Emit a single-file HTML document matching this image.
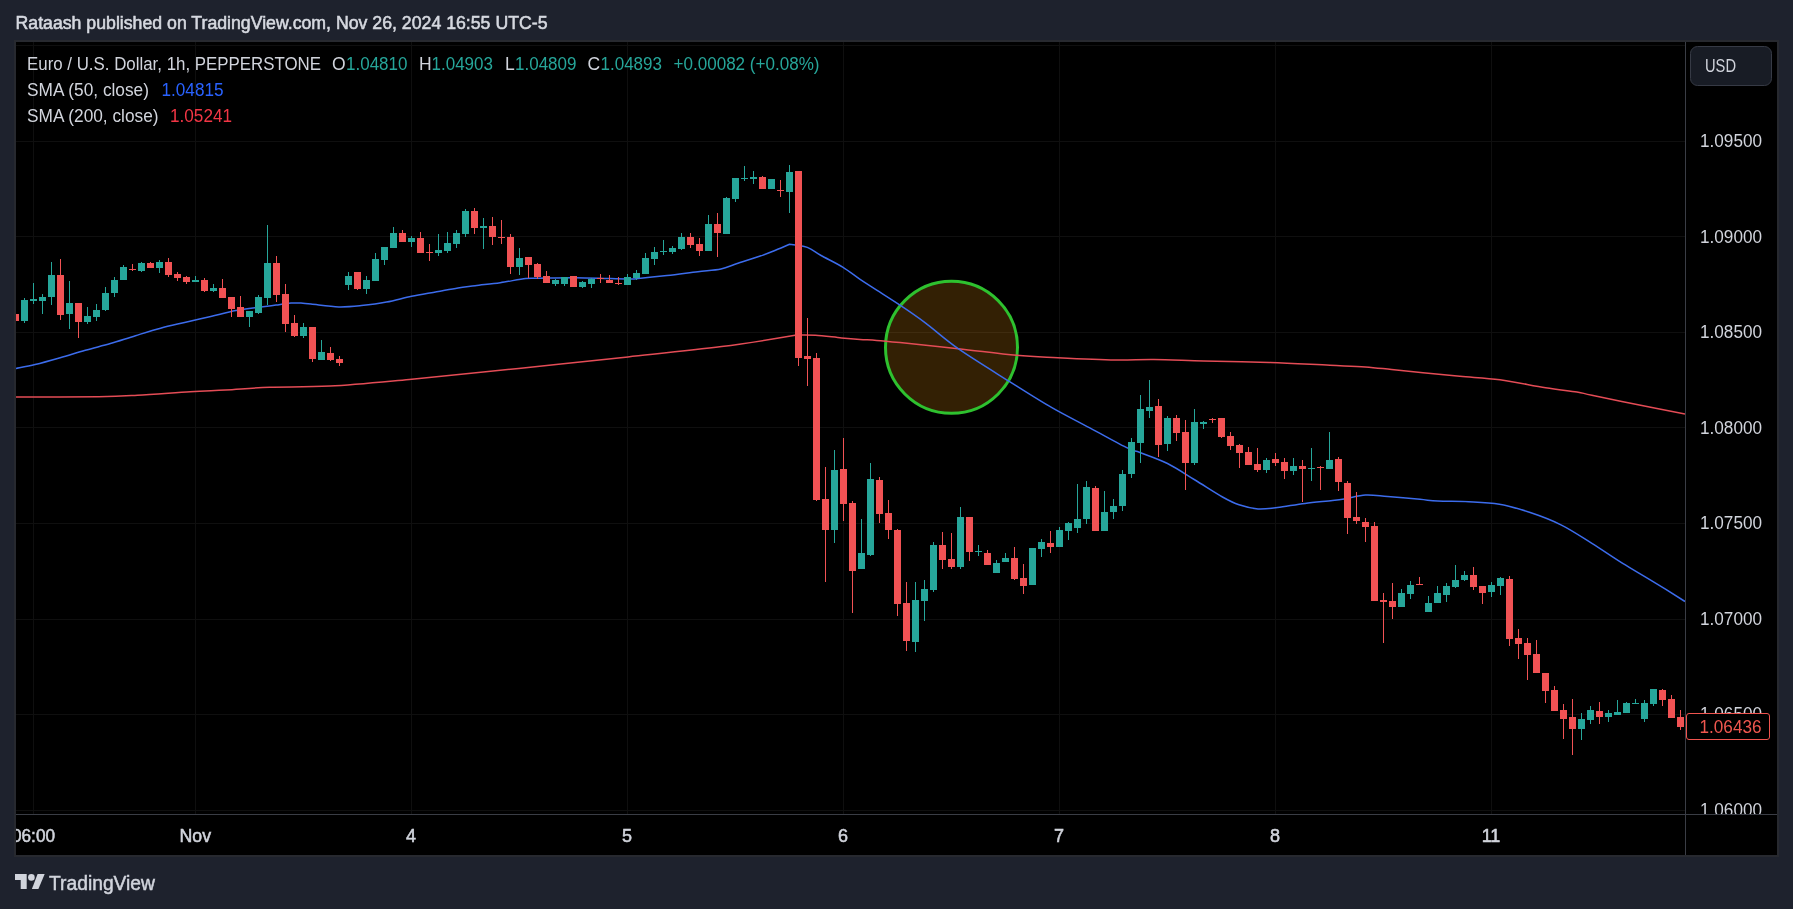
<!DOCTYPE html>
<html><head><meta charset="utf-8"><title>EURUSD chart</title>
<style>
html,body{margin:0;padding:0;}
body{width:1793px;height:909px;background:#1e222d;position:relative;overflow:hidden;font-family:"Liberation Sans",sans-serif;}
svg{position:absolute;left:0;top:0;will-change:transform;}
svg text{font-family:"Liberation Sans",sans-serif;}
.ax{font-size:17px;fill:#d1d4dc;}
.lg{font-size:17.5px;fill:#d1d4dc;stroke-width:0.2px;}
.tx{font-size:18px;fill:#d1d4dc;stroke:#d1d4dc;stroke-width:0.55px;}
</style></head><body>
<svg width="1793" height="909" viewBox="0 0 1793 909">
<defs>
<clipPath id="pane"><rect x="16" y="42" width="1669" height="772"/></clipPath>
<clipPath id="pax"><rect x="1686" y="42" width="91" height="772"/></clipPath>
<clipPath id="tax"><rect x="16" y="815" width="1669" height="40"/></clipPath>
</defs>
<text x="15.5" y="29" style="font-size:17.5px;font-weight:normal;fill:#d6d9e0;stroke:#d6d9e0;stroke-width:0.55px" textLength="532" lengthAdjust="spacingAndGlyphs">Rataash published on TradingView.com, Nov 26, 2024 16:55 UTC-5</text>
<rect x="14" y="40" width="1765" height="817" fill="#27292f"/>
<rect x="16" y="42" width="1761" height="813" fill="#000"/>
<g shape-rendering="crispEdges">
<rect x="16" y="45" width="1669" height="1" fill="#0f0f0f"/>
<rect x="16" y="141" width="1669" height="1" fill="#0f0f0f"/>
<rect x="16" y="236" width="1669" height="1" fill="#0f0f0f"/>
<rect x="16" y="332" width="1669" height="1" fill="#0f0f0f"/>
<rect x="16" y="427" width="1669" height="1" fill="#0f0f0f"/>
<rect x="16" y="523" width="1669" height="1" fill="#0f0f0f"/>
<rect x="16" y="619" width="1669" height="1" fill="#0f0f0f"/>
<rect x="16" y="714" width="1669" height="1" fill="#0f0f0f"/>
<rect x="16" y="810" width="1669" height="1" fill="#0f0f0f"/>
<rect x="33" y="42" width="1" height="772" fill="#0f0f0f"/>
<rect x="195" y="42" width="1" height="772" fill="#0f0f0f"/>
<rect x="411" y="42" width="1" height="772" fill="#0f0f0f"/>
<rect x="627" y="42" width="1" height="772" fill="#0f0f0f"/>
<rect x="843" y="42" width="1" height="772" fill="#0f0f0f"/>
<rect x="1059" y="42" width="1" height="772" fill="#0f0f0f"/>
<rect x="1275" y="42" width="1" height="772" fill="#0f0f0f"/>
<rect x="1491" y="42" width="1" height="772" fill="#0f0f0f"/>
</g>
<g clip-path="url(#pane)">
<circle cx="951.5" cy="347.3" r="66" fill="rgba(255,160,20,0.2)" stroke="#2ec12f" stroke-width="3"/>
<path d="M15.0,397.0 C28.9,396.9 78.2,397.0 98.6,396.7 C119.0,396.4 122.1,396.1 137.4,395.3 C152.7,394.5 175.5,392.6 190.2,391.7 C204.9,390.8 212.3,390.7 225.5,390.0 C238.7,389.3 252.2,387.9 269.6,387.3 C287.0,386.7 306.7,387.4 330.0,386.1 C353.3,384.8 377.9,382.3 409.3,379.4 C440.7,376.4 482.2,372.1 518.6,368.4 C555.0,364.6 594.1,360.5 627.9,356.9 C661.7,353.3 693.5,350.2 721.6,346.6 C749.7,343.0 796.6,335.0 796.6,335.0 C796.6,335.0 807.9,334.7 815.4,335.2 C822.9,335.7 834.2,337.2 841.6,337.9 C849.0,338.6 854.1,339.0 860.0,339.4 C865.9,339.8 870.0,339.9 876.7,340.4 C883.4,340.9 886.4,341.2 900.0,342.6 C913.6,344.0 938.8,346.6 958.2,348.7 C977.6,350.8 999.8,353.8 1016.4,355.3 C1033.0,356.8 1041.2,356.9 1057.7,357.7 C1074.2,358.5 1099.4,359.7 1115.4,360.0 C1131.4,360.3 1139.1,359.2 1153.8,359.4 C1168.5,359.5 1184.5,360.4 1203.7,360.9 C1222.9,361.4 1248.2,361.8 1269.2,362.5 C1290.2,363.2 1314.0,364.6 1330.0,365.3 C1346.0,366.0 1355.1,366.2 1365.4,366.9 C1375.7,367.6 1382.0,368.6 1391.6,369.6 C1401.2,370.6 1411.6,371.6 1423.0,372.7 C1434.4,373.8 1447.2,375.1 1460.0,376.3 C1472.8,377.5 1485.7,377.9 1500.0,379.8 C1514.3,381.7 1532.8,385.8 1545.6,387.8 C1558.4,389.8 1569.2,390.8 1576.9,392.0 C1584.6,393.2 1581.7,393.2 1591.9,395.3 C1602.1,397.4 1622.6,401.6 1638.1,404.7 C1653.6,407.8 1677.2,412.4 1685.0,413.9" fill="none" stroke="#e44c56" stroke-width="1.5" stroke-linejoin="round"/>
<path d="M15.0,368.6 C18.4,367.9 27.6,366.4 35.1,364.6 C42.6,362.8 51.8,360.2 60.2,357.8 C68.6,355.4 76.9,352.7 85.3,350.3 C93.7,347.9 102.0,345.9 110.4,343.5 C118.8,341.1 127.1,338.2 135.5,335.7 C143.9,333.1 152.2,330.4 160.6,328.2 C169.0,325.9 177.3,324.2 185.7,322.2 C194.1,320.2 202.4,318.3 210.8,316.4 C219.2,314.5 227.5,312.2 235.9,310.6 C244.3,309.1 254.3,308.0 261.0,307.1 C267.7,306.2 271.0,305.8 276.0,305.1 C281.0,304.4 286.8,303.4 291.0,303.1 C295.2,302.8 297.7,302.9 301.0,303.1 C304.3,303.3 304.7,303.5 311.0,304.1 C317.3,304.7 330.4,306.6 338.8,306.9 C347.2,307.1 353.4,306.4 361.4,305.6 C369.3,304.8 378.1,303.7 386.5,302.1 C394.9,300.6 403.2,298.0 411.6,296.3 C420.0,294.6 429.0,293.2 436.7,291.8 C444.4,290.4 451.6,288.9 458.0,287.9 C464.4,286.9 468.1,286.6 475.1,285.7 C482.1,284.8 491.8,283.9 500.2,282.7 C508.6,281.5 519.5,279.2 525.8,278.5 C532.1,277.8 529.6,278.3 537.9,278.2 C546.2,278.1 560.9,277.6 575.5,277.7 C590.1,277.8 615.6,278.7 625.7,278.9 C635.8,279.1 629.3,279.2 636.2,278.7 C643.1,278.1 656.7,276.8 667.0,275.6 C677.3,274.4 688.9,272.8 697.9,271.7 C706.9,270.6 714.6,270.2 721.0,268.9 C727.4,267.6 730.0,265.8 736.4,263.7 C742.8,261.6 753.1,258.5 759.5,256.3 C765.9,254.1 769.9,252.5 774.9,250.5 C779.9,248.5 789.5,244.3 789.5,244.3 C789.5,244.3 802.0,245.5 807.3,247.4 C812.6,249.3 815.2,252.2 821.1,255.5 C827.0,258.8 836.2,263.1 842.7,267.1 C849.2,271.1 854.4,275.5 860.1,279.4 C865.8,283.2 870.1,285.9 876.7,290.2 C883.4,294.5 891.9,299.8 900.0,305.2 C908.1,310.6 915.6,315.6 925.3,322.9 C935.0,330.1 944.3,339.0 958.2,348.7 C972.1,358.4 993.2,371.3 1008.8,381.1 C1024.4,390.9 1038.4,399.9 1051.9,407.7 C1065.4,415.5 1077.2,421.1 1089.8,427.9 C1102.4,434.6 1119.4,444.1 1127.8,448.2 C1136.2,452.3 1133.4,449.9 1140.0,452.5 C1146.6,455.1 1158.3,458.9 1167.5,463.5 C1176.7,468.1 1185.8,474.4 1195.0,480.0 C1204.2,485.6 1215.2,492.9 1222.5,497.0 C1229.8,501.1 1233.1,502.8 1239.0,504.8 C1244.9,506.8 1251.6,508.4 1258.0,508.9 C1264.4,509.3 1269.7,508.4 1277.5,507.5 C1285.3,506.6 1295.8,504.5 1305.0,503.4 C1314.2,502.2 1325.7,501.4 1332.5,500.6 C1339.3,499.8 1340.5,499.6 1346.0,498.7 C1351.5,497.8 1358.6,495.5 1365.5,495.1 C1372.4,494.7 1378.5,495.8 1387.6,496.5 C1396.7,497.2 1411.6,498.5 1420.0,499.3 C1428.4,500.1 1429.7,500.7 1437.8,501.1 C1445.9,501.5 1458.3,501.2 1468.6,501.7 C1478.9,502.2 1489.1,502.4 1499.4,504.2 C1509.7,506.0 1519.9,509.1 1530.2,512.5 C1540.5,515.9 1550.7,519.7 1561.0,524.8 C1571.3,529.9 1581.6,536.9 1591.9,543.3 C1602.2,549.7 1612.4,556.9 1622.7,563.3 C1633.0,569.7 1643.1,575.4 1653.5,581.8 C1663.9,588.2 1679.8,598.2 1685.0,601.5" fill="none" stroke="#3c6cec" stroke-width="1.5" stroke-linejoin="round"/>
<g shape-rendering="crispEdges">
<rect x="15" y="311" width="1" height="19" fill="#f15254"/>
<rect x="12" y="314" width="7" height="7" fill="#f15254"/>
<rect x="24" y="298" width="1" height="25" fill="#26a69a"/>
<rect x="21" y="300" width="7" height="21" fill="#26a69a"/>
<rect x="33" y="283" width="1" height="21" fill="#26a69a"/>
<rect x="30" y="299" width="7" height="2" fill="#26a69a"/>
<rect x="42" y="294" width="1" height="20" fill="#26a69a"/>
<rect x="39" y="297" width="7" height="4" fill="#26a69a"/>
<rect x="51" y="262" width="1" height="43" fill="#26a69a"/>
<rect x="48" y="275" width="7" height="22" fill="#26a69a"/>
<rect x="60" y="259" width="1" height="61" fill="#f15254"/>
<rect x="57" y="275" width="7" height="40" fill="#f15254"/>
<rect x="69" y="281" width="1" height="48" fill="#26a69a"/>
<rect x="66" y="303" width="7" height="11" fill="#26a69a"/>
<rect x="78" y="303" width="1" height="35" fill="#f15254"/>
<rect x="75" y="303" width="7" height="19" fill="#f15254"/>
<rect x="87" y="307" width="1" height="17" fill="#26a69a"/>
<rect x="84" y="316" width="7" height="6" fill="#26a69a"/>
<rect x="96" y="304" width="1" height="17" fill="#26a69a"/>
<rect x="93" y="310" width="7" height="7" fill="#26a69a"/>
<rect x="105" y="287" width="1" height="24" fill="#26a69a"/>
<rect x="102" y="293" width="7" height="17" fill="#26a69a"/>
<rect x="114" y="277" width="1" height="20" fill="#26a69a"/>
<rect x="111" y="280" width="7" height="13" fill="#26a69a"/>
<rect x="123" y="265" width="1" height="15" fill="#26a69a"/>
<rect x="120" y="267" width="7" height="13" fill="#26a69a"/>
<rect x="132" y="264" width="1" height="7" fill="#f15254"/>
<rect x="129" y="269" width="7" height="1" fill="#f15254"/>
<rect x="141" y="262" width="1" height="10" fill="#26a69a"/>
<rect x="138" y="263" width="7" height="8" fill="#26a69a"/>
<rect x="150" y="262" width="1" height="6" fill="#f15254"/>
<rect x="147" y="263" width="7" height="5" fill="#f15254"/>
<rect x="159" y="260" width="1" height="13" fill="#26a69a"/>
<rect x="156" y="262" width="7" height="6" fill="#26a69a"/>
<rect x="168" y="258" width="1" height="19" fill="#f15254"/>
<rect x="165" y="262" width="7" height="13" fill="#f15254"/>
<rect x="177" y="272" width="1" height="9" fill="#f15254"/>
<rect x="174" y="274" width="7" height="4" fill="#f15254"/>
<rect x="186" y="276" width="1" height="8" fill="#f15254"/>
<rect x="183" y="277" width="7" height="5" fill="#f15254"/>
<rect x="195" y="276" width="1" height="6" fill="#26a69a"/>
<rect x="192" y="280" width="7" height="2" fill="#26a69a"/>
<rect x="204" y="278" width="1" height="14" fill="#f15254"/>
<rect x="201" y="280" width="7" height="11" fill="#f15254"/>
<rect x="213" y="284" width="1" height="8" fill="#26a69a"/>
<rect x="210" y="288" width="7" height="3" fill="#26a69a"/>
<rect x="222" y="279" width="1" height="19" fill="#f15254"/>
<rect x="219" y="288" width="7" height="10" fill="#f15254"/>
<rect x="231" y="297" width="1" height="20" fill="#f15254"/>
<rect x="228" y="297" width="7" height="12" fill="#f15254"/>
<rect x="240" y="296" width="1" height="21" fill="#f15254"/>
<rect x="237" y="307" width="7" height="10" fill="#f15254"/>
<rect x="249" y="311" width="1" height="16" fill="#26a69a"/>
<rect x="246" y="311" width="7" height="6" fill="#26a69a"/>
<rect x="258" y="295" width="1" height="19" fill="#26a69a"/>
<rect x="255" y="297" width="7" height="16" fill="#26a69a"/>
<rect x="267" y="225" width="1" height="80" fill="#26a69a"/>
<rect x="264" y="263" width="7" height="35" fill="#26a69a"/>
<rect x="276" y="256" width="1" height="46" fill="#f15254"/>
<rect x="273" y="263" width="7" height="32" fill="#f15254"/>
<rect x="285" y="284" width="1" height="48" fill="#f15254"/>
<rect x="282" y="294" width="7" height="30" fill="#f15254"/>
<rect x="294" y="315" width="1" height="22" fill="#f15254"/>
<rect x="291" y="323" width="7" height="13" fill="#f15254"/>
<rect x="303" y="323" width="1" height="15" fill="#26a69a"/>
<rect x="300" y="327" width="7" height="9" fill="#26a69a"/>
<rect x="312" y="327" width="1" height="35" fill="#f15254"/>
<rect x="309" y="327" width="7" height="32" fill="#f15254"/>
<rect x="321" y="340" width="1" height="20" fill="#26a69a"/>
<rect x="318" y="352" width="7" height="8" fill="#26a69a"/>
<rect x="330" y="347" width="1" height="14" fill="#f15254"/>
<rect x="327" y="353" width="7" height="7" fill="#f15254"/>
<rect x="339" y="356" width="1" height="10" fill="#f15254"/>
<rect x="336" y="359" width="7" height="4" fill="#f15254"/>
<rect x="348" y="272" width="1" height="18" fill="#26a69a"/>
<rect x="345" y="276" width="7" height="9" fill="#26a69a"/>
<rect x="357" y="272" width="1" height="18" fill="#f15254"/>
<rect x="354" y="272" width="7" height="17" fill="#f15254"/>
<rect x="366" y="276" width="1" height="18" fill="#26a69a"/>
<rect x="363" y="280" width="7" height="9" fill="#26a69a"/>
<rect x="375" y="253" width="1" height="28" fill="#26a69a"/>
<rect x="372" y="259" width="7" height="22" fill="#26a69a"/>
<rect x="384" y="247" width="1" height="18" fill="#26a69a"/>
<rect x="381" y="247" width="7" height="13" fill="#26a69a"/>
<rect x="393" y="227" width="1" height="21" fill="#26a69a"/>
<rect x="390" y="233" width="7" height="15" fill="#26a69a"/>
<rect x="402" y="230" width="1" height="12" fill="#f15254"/>
<rect x="399" y="233" width="7" height="9" fill="#f15254"/>
<rect x="411" y="236" width="1" height="11" fill="#26a69a"/>
<rect x="408" y="238" width="7" height="4" fill="#26a69a"/>
<rect x="420" y="232" width="1" height="21" fill="#f15254"/>
<rect x="417" y="238" width="7" height="15" fill="#f15254"/>
<rect x="429" y="244" width="1" height="17" fill="#f15254"/>
<rect x="426" y="252" width="7" height="1" fill="#f15254"/>
<rect x="438" y="234" width="1" height="22" fill="#26a69a"/>
<rect x="435" y="250" width="7" height="3" fill="#26a69a"/>
<rect x="447" y="232" width="1" height="21" fill="#26a69a"/>
<rect x="444" y="243" width="7" height="8" fill="#26a69a"/>
<rect x="456" y="230" width="1" height="18" fill="#26a69a"/>
<rect x="453" y="233" width="7" height="11" fill="#26a69a"/>
<rect x="465" y="209" width="1" height="28" fill="#26a69a"/>
<rect x="462" y="211" width="7" height="23" fill="#26a69a"/>
<rect x="474" y="208" width="1" height="26" fill="#f15254"/>
<rect x="471" y="211" width="7" height="17" fill="#f15254"/>
<rect x="483" y="218" width="1" height="31" fill="#26a69a"/>
<rect x="480" y="226" width="7" height="2" fill="#26a69a"/>
<rect x="492" y="217" width="1" height="28" fill="#f15254"/>
<rect x="489" y="226" width="7" height="11" fill="#f15254"/>
<rect x="501" y="220" width="1" height="24" fill="#f15254"/>
<rect x="498" y="237" width="7" height="1" fill="#f15254"/>
<rect x="510" y="234" width="1" height="40" fill="#f15254"/>
<rect x="507" y="237" width="7" height="30" fill="#f15254"/>
<rect x="519" y="248" width="1" height="27" fill="#26a69a"/>
<rect x="516" y="258" width="7" height="9" fill="#26a69a"/>
<rect x="528" y="257" width="1" height="21" fill="#f15254"/>
<rect x="525" y="257" width="7" height="8" fill="#f15254"/>
<rect x="537" y="263" width="1" height="16" fill="#f15254"/>
<rect x="534" y="264" width="7" height="13" fill="#f15254"/>
<rect x="546" y="271" width="1" height="12" fill="#f15254"/>
<rect x="543" y="276" width="7" height="7" fill="#f15254"/>
<rect x="555" y="279" width="1" height="7" fill="#26a69a"/>
<rect x="552" y="280" width="7" height="4" fill="#26a69a"/>
<rect x="564" y="277" width="1" height="9" fill="#26a69a"/>
<rect x="561" y="277" width="7" height="7" fill="#26a69a"/>
<rect x="573" y="276" width="1" height="11" fill="#f15254"/>
<rect x="570" y="276" width="7" height="11" fill="#f15254"/>
<rect x="582" y="281" width="1" height="7" fill="#26a69a"/>
<rect x="579" y="282" width="7" height="5" fill="#26a69a"/>
<rect x="591" y="278" width="1" height="10" fill="#26a69a"/>
<rect x="588" y="279" width="7" height="5" fill="#26a69a"/>
<rect x="600" y="274" width="1" height="9" fill="#f15254"/>
<rect x="597" y="278" width="7" height="1" fill="#f15254"/>
<rect x="609" y="275" width="1" height="8" fill="#f15254"/>
<rect x="606" y="280" width="7" height="3" fill="#f15254"/>
<rect x="618" y="277" width="1" height="8" fill="#f15254"/>
<rect x="615" y="283" width="7" height="1" fill="#f15254"/>
<rect x="627" y="274" width="1" height="11" fill="#26a69a"/>
<rect x="624" y="277" width="7" height="8" fill="#26a69a"/>
<rect x="636" y="270" width="1" height="10" fill="#26a69a"/>
<rect x="633" y="273" width="7" height="5" fill="#26a69a"/>
<rect x="645" y="253" width="1" height="21" fill="#26a69a"/>
<rect x="642" y="258" width="7" height="16" fill="#26a69a"/>
<rect x="654" y="247" width="1" height="18" fill="#26a69a"/>
<rect x="651" y="252" width="7" height="7" fill="#26a69a"/>
<rect x="663" y="240" width="1" height="15" fill="#26a69a"/>
<rect x="660" y="251" width="7" height="1" fill="#26a69a"/>
<rect x="672" y="246" width="1" height="8" fill="#26a69a"/>
<rect x="669" y="248" width="7" height="4" fill="#26a69a"/>
<rect x="681" y="233" width="1" height="17" fill="#26a69a"/>
<rect x="678" y="237" width="7" height="12" fill="#26a69a"/>
<rect x="690" y="233" width="1" height="15" fill="#f15254"/>
<rect x="687" y="237" width="7" height="8" fill="#f15254"/>
<rect x="699" y="238" width="1" height="18" fill="#f15254"/>
<rect x="696" y="244" width="7" height="7" fill="#f15254"/>
<rect x="708" y="215" width="1" height="36" fill="#26a69a"/>
<rect x="705" y="224" width="7" height="27" fill="#26a69a"/>
<rect x="717" y="213" width="1" height="44" fill="#f15254"/>
<rect x="714" y="224" width="7" height="9" fill="#f15254"/>
<rect x="726" y="197" width="1" height="37" fill="#26a69a"/>
<rect x="723" y="198" width="7" height="36" fill="#26a69a"/>
<rect x="735" y="178" width="1" height="24" fill="#26a69a"/>
<rect x="732" y="178" width="7" height="21" fill="#26a69a"/>
<rect x="744" y="166" width="1" height="15" fill="#26a69a"/>
<rect x="741" y="178" width="7" height="1" fill="#26a69a"/>
<rect x="753" y="171" width="1" height="13" fill="#26a69a"/>
<rect x="750" y="177" width="7" height="2" fill="#26a69a"/>
<rect x="762" y="176" width="1" height="13" fill="#f15254"/>
<rect x="759" y="177" width="7" height="12" fill="#f15254"/>
<rect x="771" y="179" width="1" height="10" fill="#26a69a"/>
<rect x="768" y="179" width="7" height="10" fill="#26a69a"/>
<rect x="780" y="180" width="1" height="17" fill="#f15254"/>
<rect x="777" y="190" width="7" height="1" fill="#f15254"/>
<rect x="789" y="165" width="1" height="48" fill="#26a69a"/>
<rect x="786" y="172" width="7" height="20" fill="#26a69a"/>
<rect x="798" y="171" width="1" height="195" fill="#f15254"/>
<rect x="795" y="171" width="7" height="187" fill="#f15254"/>
<rect x="807" y="318" width="1" height="68" fill="#f15254"/>
<rect x="804" y="356" width="7" height="3" fill="#f15254"/>
<rect x="816" y="353" width="1" height="148" fill="#f15254"/>
<rect x="813" y="358" width="7" height="142" fill="#f15254"/>
<rect x="825" y="467" width="1" height="115" fill="#f15254"/>
<rect x="822" y="499" width="7" height="31" fill="#f15254"/>
<rect x="834" y="450" width="1" height="93" fill="#26a69a"/>
<rect x="831" y="470" width="7" height="60" fill="#26a69a"/>
<rect x="843" y="438" width="1" height="83" fill="#f15254"/>
<rect x="840" y="469" width="7" height="35" fill="#f15254"/>
<rect x="852" y="501" width="1" height="112" fill="#f15254"/>
<rect x="849" y="503" width="7" height="68" fill="#f15254"/>
<rect x="861" y="519" width="1" height="50" fill="#26a69a"/>
<rect x="858" y="553" width="7" height="16" fill="#26a69a"/>
<rect x="870" y="463" width="1" height="93" fill="#26a69a"/>
<rect x="867" y="479" width="7" height="76" fill="#26a69a"/>
<rect x="879" y="477" width="1" height="46" fill="#f15254"/>
<rect x="876" y="480" width="7" height="34" fill="#f15254"/>
<rect x="888" y="500" width="1" height="39" fill="#f15254"/>
<rect x="885" y="513" width="7" height="17" fill="#f15254"/>
<rect x="897" y="529" width="1" height="87" fill="#f15254"/>
<rect x="894" y="530" width="7" height="74" fill="#f15254"/>
<rect x="906" y="582" width="1" height="69" fill="#f15254"/>
<rect x="903" y="603" width="7" height="38" fill="#f15254"/>
<rect x="915" y="582" width="1" height="70" fill="#26a69a"/>
<rect x="912" y="600" width="7" height="42" fill="#26a69a"/>
<rect x="924" y="580" width="1" height="41" fill="#26a69a"/>
<rect x="921" y="589" width="7" height="12" fill="#26a69a"/>
<rect x="933" y="542" width="1" height="50" fill="#26a69a"/>
<rect x="930" y="545" width="7" height="45" fill="#26a69a"/>
<rect x="942" y="532" width="1" height="37" fill="#f15254"/>
<rect x="939" y="545" width="7" height="15" fill="#f15254"/>
<rect x="951" y="533" width="1" height="36" fill="#f15254"/>
<rect x="948" y="559" width="7" height="8" fill="#f15254"/>
<rect x="960" y="507" width="1" height="62" fill="#26a69a"/>
<rect x="957" y="517" width="7" height="50" fill="#26a69a"/>
<rect x="969" y="517" width="1" height="44" fill="#f15254"/>
<rect x="966" y="517" width="7" height="35" fill="#f15254"/>
<rect x="978" y="545" width="1" height="11" fill="#26a69a"/>
<rect x="975" y="551" width="7" height="1" fill="#26a69a"/>
<rect x="987" y="550" width="1" height="15" fill="#f15254"/>
<rect x="984" y="553" width="7" height="12" fill="#f15254"/>
<rect x="996" y="560" width="1" height="13" fill="#26a69a"/>
<rect x="993" y="563" width="7" height="10" fill="#26a69a"/>
<rect x="1005" y="553" width="1" height="9" fill="#26a69a"/>
<rect x="1002" y="558" width="7" height="4" fill="#26a69a"/>
<rect x="1014" y="547" width="1" height="33" fill="#f15254"/>
<rect x="1011" y="558" width="7" height="21" fill="#f15254"/>
<rect x="1023" y="564" width="1" height="30" fill="#f15254"/>
<rect x="1020" y="578" width="7" height="8" fill="#f15254"/>
<rect x="1032" y="548" width="1" height="37" fill="#26a69a"/>
<rect x="1029" y="548" width="7" height="37" fill="#26a69a"/>
<rect x="1041" y="539" width="1" height="18" fill="#26a69a"/>
<rect x="1038" y="542" width="7" height="7" fill="#26a69a"/>
<rect x="1050" y="531" width="1" height="22" fill="#f15254"/>
<rect x="1047" y="543" width="7" height="4" fill="#f15254"/>
<rect x="1059" y="527" width="1" height="20" fill="#26a69a"/>
<rect x="1056" y="530" width="7" height="17" fill="#26a69a"/>
<rect x="1068" y="522" width="1" height="18" fill="#26a69a"/>
<rect x="1065" y="523" width="7" height="8" fill="#26a69a"/>
<rect x="1077" y="484" width="1" height="49" fill="#26a69a"/>
<rect x="1074" y="519" width="7" height="9" fill="#26a69a"/>
<rect x="1086" y="481" width="1" height="43" fill="#26a69a"/>
<rect x="1083" y="487" width="7" height="32" fill="#26a69a"/>
<rect x="1095" y="486" width="1" height="45" fill="#f15254"/>
<rect x="1092" y="488" width="7" height="43" fill="#f15254"/>
<rect x="1104" y="491" width="1" height="40" fill="#26a69a"/>
<rect x="1101" y="512" width="7" height="19" fill="#26a69a"/>
<rect x="1113" y="499" width="1" height="20" fill="#26a69a"/>
<rect x="1110" y="506" width="7" height="6" fill="#26a69a"/>
<rect x="1122" y="470" width="1" height="41" fill="#26a69a"/>
<rect x="1119" y="474" width="7" height="32" fill="#26a69a"/>
<rect x="1131" y="438" width="1" height="40" fill="#26a69a"/>
<rect x="1128" y="442" width="7" height="32" fill="#26a69a"/>
<rect x="1140" y="395" width="1" height="68" fill="#26a69a"/>
<rect x="1137" y="409" width="7" height="34" fill="#26a69a"/>
<rect x="1149" y="380" width="1" height="38" fill="#26a69a"/>
<rect x="1146" y="407" width="7" height="4" fill="#26a69a"/>
<rect x="1158" y="399" width="1" height="58" fill="#f15254"/>
<rect x="1155" y="406" width="7" height="39" fill="#f15254"/>
<rect x="1167" y="416" width="1" height="35" fill="#26a69a"/>
<rect x="1164" y="418" width="7" height="26" fill="#26a69a"/>
<rect x="1176" y="415" width="1" height="26" fill="#f15254"/>
<rect x="1173" y="418" width="7" height="15" fill="#f15254"/>
<rect x="1185" y="420" width="1" height="70" fill="#f15254"/>
<rect x="1182" y="432" width="7" height="31" fill="#f15254"/>
<rect x="1194" y="409" width="1" height="56" fill="#26a69a"/>
<rect x="1191" y="422" width="7" height="41" fill="#26a69a"/>
<rect x="1203" y="421" width="1" height="8" fill="#26a69a"/>
<rect x="1200" y="422" width="7" height="2" fill="#26a69a"/>
<rect x="1212" y="418" width="1" height="5" fill="#f15254"/>
<rect x="1209" y="419" width="7" height="1" fill="#f15254"/>
<rect x="1221" y="418" width="1" height="20" fill="#f15254"/>
<rect x="1218" y="418" width="7" height="19" fill="#f15254"/>
<rect x="1230" y="432" width="1" height="18" fill="#f15254"/>
<rect x="1227" y="436" width="7" height="10" fill="#f15254"/>
<rect x="1239" y="444" width="1" height="24" fill="#f15254"/>
<rect x="1236" y="445" width="7" height="8" fill="#f15254"/>
<rect x="1248" y="447" width="1" height="18" fill="#f15254"/>
<rect x="1245" y="452" width="7" height="13" fill="#f15254"/>
<rect x="1257" y="448" width="1" height="24" fill="#f15254"/>
<rect x="1254" y="464" width="7" height="6" fill="#f15254"/>
<rect x="1266" y="458" width="1" height="15" fill="#26a69a"/>
<rect x="1263" y="460" width="7" height="10" fill="#26a69a"/>
<rect x="1275" y="453" width="1" height="13" fill="#f15254"/>
<rect x="1272" y="459" width="7" height="4" fill="#f15254"/>
<rect x="1284" y="458" width="1" height="21" fill="#f15254"/>
<rect x="1281" y="462" width="7" height="9" fill="#f15254"/>
<rect x="1293" y="458" width="1" height="17" fill="#26a69a"/>
<rect x="1290" y="466" width="7" height="5" fill="#26a69a"/>
<rect x="1302" y="460" width="1" height="42" fill="#f15254"/>
<rect x="1299" y="466" width="7" height="3" fill="#f15254"/>
<rect x="1311" y="448" width="1" height="33" fill="#26a69a"/>
<rect x="1308" y="468" width="7" height="1" fill="#26a69a"/>
<rect x="1320" y="466" width="1" height="24" fill="#f15254"/>
<rect x="1317" y="467" width="7" height="1" fill="#f15254"/>
<rect x="1329" y="432" width="1" height="37" fill="#26a69a"/>
<rect x="1326" y="460" width="7" height="9" fill="#26a69a"/>
<rect x="1338" y="457" width="1" height="34" fill="#f15254"/>
<rect x="1335" y="459" width="7" height="23" fill="#f15254"/>
<rect x="1347" y="481" width="1" height="53" fill="#f15254"/>
<rect x="1344" y="483" width="7" height="35" fill="#f15254"/>
<rect x="1356" y="492" width="1" height="32" fill="#f15254"/>
<rect x="1353" y="517" width="7" height="4" fill="#f15254"/>
<rect x="1365" y="518" width="1" height="24" fill="#f15254"/>
<rect x="1362" y="522" width="7" height="5" fill="#f15254"/>
<rect x="1374" y="522" width="1" height="79" fill="#f15254"/>
<rect x="1371" y="526" width="7" height="75" fill="#f15254"/>
<rect x="1383" y="593" width="1" height="50" fill="#f15254"/>
<rect x="1380" y="600" width="7" height="2" fill="#f15254"/>
<rect x="1392" y="583" width="1" height="36" fill="#f15254"/>
<rect x="1389" y="601" width="7" height="6" fill="#f15254"/>
<rect x="1401" y="589" width="1" height="18" fill="#26a69a"/>
<rect x="1398" y="593" width="7" height="14" fill="#26a69a"/>
<rect x="1410" y="581" width="1" height="18" fill="#26a69a"/>
<rect x="1407" y="585" width="7" height="9" fill="#26a69a"/>
<rect x="1419" y="577" width="1" height="8" fill="#f15254"/>
<rect x="1416" y="584" width="7" height="1" fill="#f15254"/>
<rect x="1428" y="596" width="1" height="16" fill="#26a69a"/>
<rect x="1425" y="603" width="7" height="9" fill="#26a69a"/>
<rect x="1437" y="586" width="1" height="17" fill="#26a69a"/>
<rect x="1434" y="593" width="7" height="10" fill="#26a69a"/>
<rect x="1446" y="583" width="1" height="19" fill="#26a69a"/>
<rect x="1443" y="586" width="7" height="9" fill="#26a69a"/>
<rect x="1455" y="565" width="1" height="23" fill="#26a69a"/>
<rect x="1452" y="580" width="7" height="7" fill="#26a69a"/>
<rect x="1464" y="571" width="1" height="10" fill="#26a69a"/>
<rect x="1461" y="575" width="7" height="5" fill="#26a69a"/>
<rect x="1473" y="567" width="1" height="23" fill="#f15254"/>
<rect x="1470" y="575" width="7" height="12" fill="#f15254"/>
<rect x="1482" y="586" width="1" height="18" fill="#f15254"/>
<rect x="1479" y="586" width="7" height="7" fill="#f15254"/>
<rect x="1491" y="582" width="1" height="15" fill="#26a69a"/>
<rect x="1488" y="585" width="7" height="7" fill="#26a69a"/>
<rect x="1500" y="577" width="1" height="18" fill="#26a69a"/>
<rect x="1497" y="578" width="7" height="8" fill="#26a69a"/>
<rect x="1509" y="576" width="1" height="70" fill="#f15254"/>
<rect x="1506" y="579" width="7" height="60" fill="#f15254"/>
<rect x="1518" y="629" width="1" height="30" fill="#f15254"/>
<rect x="1515" y="638" width="7" height="6" fill="#f15254"/>
<rect x="1527" y="638" width="1" height="42" fill="#f15254"/>
<rect x="1524" y="643" width="7" height="12" fill="#f15254"/>
<rect x="1536" y="640" width="1" height="33" fill="#f15254"/>
<rect x="1533" y="654" width="7" height="19" fill="#f15254"/>
<rect x="1545" y="673" width="1" height="30" fill="#f15254"/>
<rect x="1542" y="673" width="7" height="18" fill="#f15254"/>
<rect x="1554" y="686" width="1" height="25" fill="#f15254"/>
<rect x="1551" y="690" width="7" height="21" fill="#f15254"/>
<rect x="1563" y="704" width="1" height="35" fill="#f15254"/>
<rect x="1560" y="710" width="7" height="9" fill="#f15254"/>
<rect x="1572" y="699" width="1" height="56" fill="#f15254"/>
<rect x="1569" y="717" width="7" height="12" fill="#f15254"/>
<rect x="1581" y="713" width="1" height="27" fill="#26a69a"/>
<rect x="1578" y="719" width="7" height="10" fill="#26a69a"/>
<rect x="1590" y="706" width="1" height="18" fill="#26a69a"/>
<rect x="1587" y="710" width="7" height="10" fill="#26a69a"/>
<rect x="1599" y="702" width="1" height="22" fill="#f15254"/>
<rect x="1596" y="711" width="7" height="6" fill="#f15254"/>
<rect x="1608" y="710" width="1" height="12" fill="#26a69a"/>
<rect x="1605" y="713" width="7" height="4" fill="#26a69a"/>
<rect x="1617" y="700" width="1" height="15" fill="#26a69a"/>
<rect x="1614" y="712" width="7" height="3" fill="#26a69a"/>
<rect x="1626" y="702" width="1" height="11" fill="#26a69a"/>
<rect x="1623" y="703" width="7" height="10" fill="#26a69a"/>
<rect x="1635" y="699" width="1" height="5" fill="#26a69a"/>
<rect x="1632" y="703" width="7" height="1" fill="#26a69a"/>
<rect x="1644" y="700" width="1" height="22" fill="#26a69a"/>
<rect x="1641" y="703" width="7" height="16" fill="#26a69a"/>
<rect x="1653" y="689" width="1" height="17" fill="#26a69a"/>
<rect x="1650" y="689" width="7" height="15" fill="#26a69a"/>
<rect x="1662" y="689" width="1" height="17" fill="#f15254"/>
<rect x="1659" y="690" width="7" height="10" fill="#f15254"/>
<rect x="1671" y="695" width="1" height="23" fill="#f15254"/>
<rect x="1668" y="699" width="7" height="19" fill="#f15254"/>
<rect x="1680" y="710" width="1" height="20" fill="#f15254"/>
<rect x="1677" y="717" width="7" height="10" fill="#f15254"/>
</g>
</g>
<g shape-rendering="crispEdges">
<rect x="1685" y="42" width="1" height="813" fill="#3a3d45"/>
<rect x="16" y="814" width="1761" height="1" fill="#3a3d45"/>
</g>
<g clip-path="url(#pax)">
<text x="1700" y="147" class="ax" style="font-size:17.6px" textLength="62" lengthAdjust="spacingAndGlyphs">1.09500</text>
<text x="1700" y="243" class="ax" style="font-size:17.6px" textLength="62" lengthAdjust="spacingAndGlyphs">1.09000</text>
<text x="1700" y="338" class="ax" style="font-size:17.6px" textLength="62" lengthAdjust="spacingAndGlyphs">1.08500</text>
<text x="1700" y="434" class="ax" style="font-size:17.6px" textLength="62" lengthAdjust="spacingAndGlyphs">1.08000</text>
<text x="1700" y="529" class="ax" style="font-size:17.6px" textLength="62" lengthAdjust="spacingAndGlyphs">1.07500</text>
<text x="1700" y="625" class="ax" style="font-size:17.6px" textLength="62" lengthAdjust="spacingAndGlyphs">1.07000</text>
<text x="1700" y="720" class="ax" style="font-size:17.6px" textLength="62" lengthAdjust="spacingAndGlyphs">1.06500</text>
<text x="1700" y="816" class="ax" style="font-size:17.6px" textLength="62" lengthAdjust="spacingAndGlyphs">1.06000</text>
</g>
<rect x="1686.5" y="713.5" width="83" height="26" rx="2.5" fill="#000" stroke="#f0544f" stroke-width="1"/>
<text x="1699.5" y="733" style="font-size:17.5px;fill:#f0574f" textLength="62" lengthAdjust="spacingAndGlyphs">1.06436</text>
<rect x="1690.5" y="46.5" width="81" height="39" rx="7" fill="#181c25" stroke="#363a45" stroke-width="1"/>
<text x="1705" y="72" style="font-size:17.5px;fill:#d1d4dc" textLength="31" lengthAdjust="spacingAndGlyphs">USD</text>
<g clip-path="url(#tax)">
<text x="33.5" y="842" text-anchor="middle" class="tx" textLength="43" lengthAdjust="spacingAndGlyphs">06:00</text>
<text x="195.3" y="842" text-anchor="middle" class="tx" textLength="31.5" lengthAdjust="spacingAndGlyphs">Nov</text>
<text x="411" y="842" text-anchor="middle" class="tx">4</text>
<text x="627" y="842" text-anchor="middle" class="tx">5</text>
<text x="843" y="842" text-anchor="middle" class="tx">6</text>
<text x="1059" y="842" text-anchor="middle" class="tx">7</text>
<text x="1275" y="842" text-anchor="middle" class="tx">8</text>
<text x="1491" y="842" text-anchor="middle" class="tx">11</text>
</g>
<text x="27" y="70" class="lg" textLength="294" lengthAdjust="spacingAndGlyphs">Euro / U.S. Dollar, 1h, PEPPERSTONE</text>
<text x="332" y="70" class="lg">O</text>
<text x="346" y="70" class="lg" fill="#26a69a" style="fill:#26a69a" textLength="61.5" lengthAdjust="spacingAndGlyphs">1.04810</text>
<text x="419" y="70" class="lg">H</text>
<text x="431.5" y="70" class="lg" style="fill:#26a69a" textLength="61.5" lengthAdjust="spacingAndGlyphs">1.04903</text>
<text x="505" y="70" class="lg">L</text>
<text x="515" y="70" class="lg" style="fill:#26a69a" textLength="61.5" lengthAdjust="spacingAndGlyphs">1.04809</text>
<text x="587.5" y="70" class="lg">C</text>
<text x="600.5" y="70" class="lg" style="fill:#26a69a" textLength="61.5" lengthAdjust="spacingAndGlyphs">1.04893</text>
<text x="673.5" y="70" class="lg" style="fill:#26a69a" textLength="146" lengthAdjust="spacingAndGlyphs">+0.00082 (+0.08%)</text>
<text x="27" y="96" class="lg" textLength="122" lengthAdjust="spacingAndGlyphs">SMA (50, close)</text>
<text x="161.5" y="96" class="lg" style="fill:#2962ff" textLength="62" lengthAdjust="spacingAndGlyphs">1.04815</text>
<text x="27" y="122" class="lg" textLength="131.5" lengthAdjust="spacingAndGlyphs">SMA (200, close)</text>
<text x="170" y="122" class="lg" style="fill:#f23645" textLength="62" lengthAdjust="spacingAndGlyphs">1.05241</text>
<g fill="#d1d4dc">
<path d="M15,874 H26.7 V889 H20.7 V880 H15 Z"/>
<circle cx="31.4" cy="877.4" r="3.3"/>
<path d="M37.6,874 H44.7 L38.4,889 H31.9 Z"/>
</g>
<text x="49" y="890" style="font-size:20px;fill:#d1d4dc;stroke:#d1d4dc;stroke-width:0.5px" textLength="106" lengthAdjust="spacingAndGlyphs">TradingView</text>
</svg>
</body></html>
